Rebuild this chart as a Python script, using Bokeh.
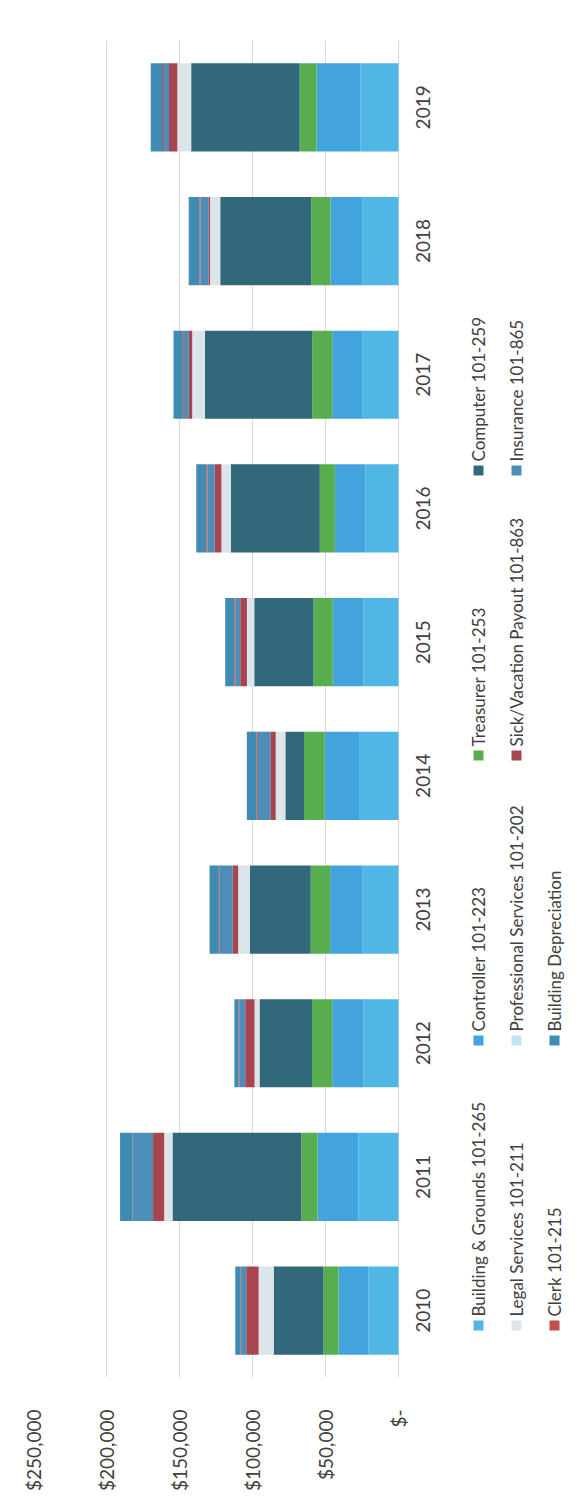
import math

from bokeh.core.properties import value
from bokeh.embed import file_html
from bokeh.models import (ColumnDataSource, CustomJSTickFormatter,
                          FixedTicker, Range1d)
from bokeh.plotting import figure
from bokeh.resources import INLINE

# ---- data ---------------------------------------------------------------
years = ["2010", "2011", "2012", "2013", "2014", "2015", "2016", "2017", "2018", "2019"]

building_grounds = [20500, 27500, 24100, 24500, 26500, 24000, 22600, 24900, 24900, 26000]
controller = [20600, 28000, 21300, 22300, 24000, 21000, 21000, 20500, 21700, 30100]
treasurer = [10500, 11000, 13800, 13300, 14200, 13200, 10300, 13700, 13200, 11600]
computer = [33900, 88300, 36000, 41700, 12800, 40600, 61000, 73500, 62300, 74300]
legal_services = [10300, 5700, 3400, 8000, 6600, 5000, 6400, 8700, 7000, 9500]
professional_services = [0, 0, 0, 0, 0, 0, 0, 0, 0, 0]
sick_vacation = [8500, 7600, 6400, 3700, 3700, 4600, 4600, 2300, 1100, 5700]
insurance = [3500, 13800, 3900, 9000, 8500, 3400, 5000, 3400, 5500, 4100]
clerk = [500, 300, 500, 500, 800, 700, 800, 700, 700, 700]
building_depreciation = [3500, 8500, 3000, 6400, 6800, 6200, 6800, 6400, 7300, 7700]

series_keys = ["building_grounds", "controller", "treasurer", "computer",
               "legal_services", "professional_services", "sick_vacation",
               "insurance", "clerk", "building_depreciation"]
series_labels = ["Building & Grounds 101-265", "Controller 101-223",
                 "Treasurer 101-253", "Computer 101-259",
                 "Legal Services 101-211", "Professional Services 101-202",
                 "Sick/Vacation Payout 101-863", "Insurance 101-865",
                 "Clerk 101-215", "Building Depreciation"]
series_colors = ["#50B6E6", "#43A3DD", "#58AE4E", "#31697A",
                 "#DCE5EA", "#C3E3F0", "#A8454E",
                 "#4D8DB7", "#C4504B", "#3F8BB1"]

tick_values = [0, 50000, 100000, 150000, 200000, 250000]
tick_labels = ["$-", "$50,000", "$100,000", "$150,000", "$200,000", "$250,000"]

# ---- page geometry (pixels) ---------------------------------------------
W, H = 580, 1501
LEFT, TOP, BOTTOM = 33, 40, 124      # borders around the drawing area
ZERO_PX = 398                        # where the value axis reaches $0
FONT = "Lato"
FONT_SIZE = "19px"
LEGEND_FONT_SIZE = "17px"
TEXT_COLOR = "#404040"

vmax = max(tick_values)
per_px = vmax / (ZERO_PX - LEFT)     # dollars per pixel along the value axis
x_end = -(W - ZERO_PX) * per_px      # value at the right edge of the frame

# one slot per year, first year at the bottom
slot = list(range(len(years)))

source = ColumnDataSource(dict(
    year=years,
    slot=slot,
    building_grounds=building_grounds,
    controller=controller,
    treasurer=treasurer,
    computer=computer,
    legal_services=legal_services,
    professional_services=professional_services,
    sick_vacation=sick_vacation,
    insurance=insurance,
    clerk=clerk,
    building_depreciation=building_depreciation,
))

p = figure(width=W, height=H,
           y_range=Range1d(-0.5, len(years) - 0.5),
           x_range=Range1d(vmax, x_end),
           output_backend="svg", toolbar_location=None,
           min_border_left=LEFT, min_border_right=0,
           min_border_top=TOP, min_border_bottom=BOTTOM,
           background_fill_color="white", border_fill_color="white")
p.outline_line_color = None
p.yaxis.visible = False

# pixel-space ranges for the year labels and the legend
p.extra_x_ranges = {"px": Range1d(LEFT, W)}
p.extra_y_ranges = {"px": Range1d(BOTTOM, H - TOP)}

# ---- stacked bars (value axis runs right-to-left, years bottom-to-top) ----
p.hbar_stack(series_keys, y="slot", height=0.66, color=series_colors,
             line_color=None, source=source)

# value axis
p.xaxis.ticker = FixedTicker(ticks=tick_values)
p.xaxis.formatter = CustomJSTickFormatter(
    args=dict(vals=tick_values, labels=tick_labels),
    code="const i = vals.indexOf(tick); return i >= 0 ? labels[i] : '';")
p.xaxis.major_label_orientation = math.pi / 2
p.xaxis.major_label_standoff = 26
p.xaxis.axis_line_color = None
p.xaxis.major_tick_line_color = None
p.xaxis.minor_tick_line_color = None
p.xaxis.major_label_text_font = FONT
p.xaxis.major_label_text_font_size = FONT_SIZE
p.xaxis.major_label_text_color = TEXT_COLOR

p.xgrid.ticker = FixedTicker(ticks=tick_values)
p.xgrid.grid_line_color = "#D9D9D9"
p.ygrid.grid_line_color = None

# year labels beside the $0 line
p.text(x=[422] * len(years), y=slot, text=years, x_range_name="px",
       angle=math.pi / 2, text_align="center", text_baseline="middle",
       text_font=value(FONT), text_font_size=FONT_SIZE, text_color=TEXT_COLOR)

# ---- legend (rotated entries, one column per legend row) ----------------
row_x = [478, 516, 554]           # horizontal position of each legend row
col_top = [1325, 1040, 755, 470]  # swatch position of each legend column (from top)

sw_x, sw_y, tx_y = [], [], []
for i in range(len(series_keys)):
    r, c = divmod(i, 4)
    sw_x.append(row_x[r])
    sw_y.append(H - col_top[c])
    tx_y.append(H - (col_top[c] - 9))

leg_src = ColumnDataSource(dict(x=sw_x, sy=sw_y, ty=tx_y,
                                label=series_labels, color=series_colors))
p.rect(x="x", y="sy", width=10, height=10, fill_color="color",
       line_color=None, source=leg_src, x_range_name="px", y_range_name="px")
p.text(x="x", y="ty", text="label", angle=math.pi / 2,
       text_align="left", text_baseline="middle",
       text_font=value(FONT), text_font_size=LEGEND_FONT_SIZE,
       text_color=TEXT_COLOR, source=leg_src,
       x_range_name="px", y_range_name="px")

with open("out.html", "w") as f:
    f.write(file_html(p, INLINE))
